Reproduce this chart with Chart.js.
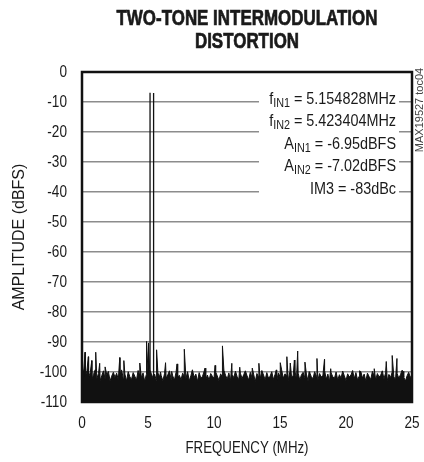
<!DOCTYPE html>
<html>
<head>
<meta charset="utf-8">
<script src="https://cdn.jsdelivr.net/npm/chart.js@4.4.1/dist/chart.umd.min.js"></script>
<style>
  html, body { margin: 0; padding: 0; background: #fff; }
  #wrap { width: 424px; height: 462px; }
</style>
</head>
<body>
<div id="wrap"><canvas id="chart" width="424" height="462"></canvas></div>
<script>
// noise floor, one reading every 0.125 MHz from 0 to 25 MHz (dBFS)
const floorStep = 0.125;
const noiseFloor = [
  -98.5, -100, -101.5, -99.5, -101.8, -100.2, -102.6, -100.8, -99.2, -102.2, -100.5, -102.8, -101.2, -99.6, -102.4, -100.9, -99.8, -103, -101.4, -100.1,
  -101.8, -100.4, -102.6, -101, -99.3, -102.2, -100.7, -103, -99.9, -101.6, -102.5, -100.2, -101.4, -102.7, -99.5, -101.1, -101.9, -100.3, -103.1, -100.8,
  -100, -99.2, -100.5, -102, -100.7, -102.8, -100.3, -101.6, -101.2, -102.9, -100.6, -102.1, -100.9, -99.6, -102.4, -101.3, -102.7, -100.1, -101.7, -101.1,
  -102.6, -100.4, -101.6, -102.2, -99.9, -103, -101.2, -99.5, -101.8, -100.7, -103.1, -100.2, -102, -101.5, -99.8, -102.5, -101, -102.7, -100.5, -101.4,
  -102.1, -100, -101.3, -102.8, -100.6, -101.6, -99.4, -101.1, -102.4, -100.3, -102.9, -100.8, -101.9, -99.7, -101.5, -102.6, -100.4, -102.2, -100.9, -99.6,
  -101.2, -102.7, -100.1, -101.8, -100.7, -103.2, -100.5, -101.6, -102.3, -99.5, -101, -102.6, -100.2, -102, -101.4, -99.9, -102.5, -100.8, -102.9, -100.3,
  -101.5, -99.3, -102.1, -100.6, -101.1, -102.8, -99.8, -101.6, -101.3, -99.6, -102.3, -100.4, -102.7, -100.9, -100.1, -101.9, -100.7, -103, -100.2, -101.6,
  -102.2, -99.9, -101.4, -102.6, -100.5, -101.7, -101.1, -99.4, -102.4, -100.7, -103.1, -100.3, -101.6, -102.1, -100, -102.7, -100.9, -102, -99.7, -101.3,
  -102.8, -100.6, -101.7, -101, -99.5, -102.2, -100.2, -102.6, -101.4, -99.9, -102, -100.7, -103, -100.4, -101.5, -102.5, -99.8, -101.2, -102.7, -100.5,
  -101.6, -101.1, -99.6, -102.3, -100.3, -102.9, -100.8, -101.8, -100, -101.6, -102.6, -100.5, -102.1, -100.9, -99.4, -101.7, -103, -101.3, -100.1, -101.9,
  -100.8
];

// spurs standing out of the floor
const spurFreqs = [0.23, 0.48, 0.74, 1.04, 1.34, 1.75, 2.86, 3.17, 4.38, 4.89, 5.04, 5.65, 5.95,
  6.33, 6.79, 7.20, 7.75, 8.36, 9.32, 10.08, 10.64, 11.35, 11.95,
  12.90, 13.40, 14.72, 15.02, 15.52, 15.78, 16.09, 16.34, 16.89, 17.20, 17.80, 18.37,
  18.84, 21.03, 22.14, 23.05, 23.50, 23.86, 24.32];
const spurLevels = [-93.4, -94.9, -96.2, -93.4, -97.1, -98.3, -95.2, -96.2, -97, -89.8, -90.3, -92.6, -100,
  -96.9, -99.8, -97.3, -92.4, -99.3, -98.7, -97.8, -91.3, -97.1, -98.4,
  -98.7, -97.1, -99.3, -96.9, -94.9, -97, -96, -93, -96.7, -99.9, -95.5, -95.8,
  -98.9, -99.6, -98.9, -96.5, -94.5, -95.5, -99.8];

// the two input tones
const toneFreqs = [5.154828, 5.423404];
const toneLevels = [-6.95, -7.02];

const xTicks = [0, 5, 10, 15, 20, 25];
const yTicks = [0, -10, -20, -30, -40, -50, -60, -70, -80, -90, -100, -110];

const noteNames = ['f', 'f', 'A', 'A', 'IM3'];
const noteSubs = ['IN1', 'IN2', 'IN1', 'IN2', ''];
const noteValues = [' = 5.154828MHz', ' = 5.423404MHz', ' = -6.95dBFS', ' = -7.02dBFS', ' = -83dBc'];

const titleLines = ['TWO-TONE INTERMODULATION', 'DISTORTION'];
const xTitle = 'FREQUENCY (MHz)';
const yTitle = 'AMPLITUDE (dBFS)';
const figureId = 'MAX19527 toc04';

const FONT = '"Liberation Sans", Arial, sans-serif';
const INK = '#1a1a1a';

// merge floor and spurs into one trace, sorted by frequency
var spectrum = noiseFloor.map((v, i) => ({ x: i * floorStep, y: v }))
  .concat(spurFreqs.map((f, i) => ({ x: f, y: spurLevels[i] })))
  .sort((a, b) => a.x - b.x);

var datasets = [{
  data: spectrum,
  borderColor: '#111',
  backgroundColor: '#111',
  borderWidth: 1,
  pointRadius: 0,
  fill: 'start',
  tension: 0
}];
toneFreqs.forEach((f, i) => {
  datasets.push({
    data: [{ x: f, y: -110 }, { x: f, y: toneLevels[i] }],
    borderColor: '#111',
    borderWidth: 1.3,
    pointRadius: 0,
    fill: false
  });
});

// text squeezed sideways, the installed fonts have no condensed face
function narrowText(ctx, text, x, y, align, sx) {
  ctx.save();
  ctx.translate(x, y);
  ctx.scale(sx, 1);
  ctx.textAlign = align;
  ctx.fillText(text, 0, 0);
  ctx.restore();
}

const decorations = {
  id: 'decorations',
  beforeDatasetsDraw(chart) {
    // white panel behind the notes cuts the grid lines
    const a = chart.chartArea;
    const ctx = chart.ctx;
    ctx.save();
    ctx.fillStyle = '#fff';
    ctx.fillRect(a.right - 153, a.top + 14, 140, 110);
    ctx.restore();
  },
  afterDraw(chart) {
    const a = chart.chartArea;
    const ctx = chart.ctx;
    const xs = chart.scales.x, ys = chart.scales.y;
    ctx.save();

    // frame
    ctx.strokeStyle = '#111';
    ctx.lineWidth = 2.5;
    ctx.strokeRect(a.left, a.top, a.right - a.left, a.bottom - a.top);

    ctx.fillStyle = INK;
    ctx.textBaseline = 'middle';

    // tick labels
    ctx.font = '17px ' + FONT;
    yTicks.forEach(v => narrowText(ctx, String(v), a.left - 15, ys.getPixelForValue(v), 'right', 0.8));
    xTicks.forEach(v => narrowText(ctx, String(v), xs.getPixelForValue(v), a.bottom + 21, 'center', 0.8));

    // x axis title
    narrowText(ctx, xTitle, (a.left + a.right) / 2, a.bottom + 46, 'center', 0.78);

    // title, centred over the plot
    ctx.font = 'bold 22px ' + FONT;
    ctx.strokeStyle = INK;
    ctx.lineWidth = 0.7;
    var cx = (a.left + a.right) / 2;
    titleLines.forEach((t, i) => {
      ctx.save();
      ctx.translate(cx, 19 + i * 23);
      ctx.scale(0.77, 1);
      ctx.textAlign = 'center';
      ctx.fillText(t, 0, 0);
      ctx.strokeText(t, 0, 0);
      ctx.restore();
    });

    // notes with subscripts, right aligned
    ctx.textBaseline = 'alphabetic';
    ctx.textAlign = 'left';
    var xr = a.right - 16;
    noteNames.forEach((n, i) => {
      var y = a.top + 32 + i * 22.4;
      ctx.font = '16px ' + FONT;
      var w1 = ctx.measureText(n).width;
      var w3 = ctx.measureText(noteValues[i]).width;
      ctx.font = '12px ' + FONT;
      var w2 = ctx.measureText(noteSubs[i]).width;
      ctx.save();
      ctx.translate(xr, y);
      ctx.scale(0.9, 1);
      var x = -(w1 + w2 + w3);
      ctx.font = '16px ' + FONT;
      ctx.fillText(n, x, 0);
      ctx.font = '12px ' + FONT;
      ctx.fillText(noteSubs[i], x + w1, 3);
      ctx.font = '16px ' + FONT;
      ctx.fillText(noteValues[i], x + w1 + w2, 0);
      ctx.restore();
    });

    // figure id along the right edge
    ctx.translate(a.right + 8, a.top + 38);
    ctx.rotate(-Math.PI / 2);
    ctx.font = '11px ' + FONT;
    ctx.fillStyle = '#444';
    ctx.textAlign = 'center';
    ctx.textBaseline = 'middle';
    ctx.fillText(figureId, 0, 0);
    ctx.restore();
  }
};

var ctx = document.getElementById('chart').getContext('2d');
new Chart(ctx, {
  type: 'line',
  data: { datasets: datasets },
  options: {
    responsive: false,
    animation: false,
    events: [],
    layout: { padding: { top: 72, right: 12, bottom: 5, left: 10 } },
    plugins: {
      legend: { display: false },
      tooltip: { enabled: false }
    },
    scales: {
      x: {
        type: 'linear',
        min: 0,
        max: 25,
        afterBuildTicks: scale => { scale.ticks = xTicks.map(v => ({ value: v })); },
        afterFit: scale => { scale.height = 55; },
        grid: { display: false, drawTicks: false },
        border: { display: false },
        ticks: { display: false }
      },
      y: {
        min: -110,
        max: 0,
        afterBuildTicks: scale => { scale.ticks = yTicks.map(v => ({ value: v })); },
        afterFit: scale => { scale.width = 72; },
        grid: { color: '#8c8c8c', lineWidth: 1.5, drawTicks: false },
        border: { display: false },
        ticks: { display: false },
        title: { display: true, text: yTitle, color: INK, padding: 0, font: { family: FONT, size: 16 } }
      }
    }
  },
  plugins: [decorations]
});
</script>
</body>
</html>
